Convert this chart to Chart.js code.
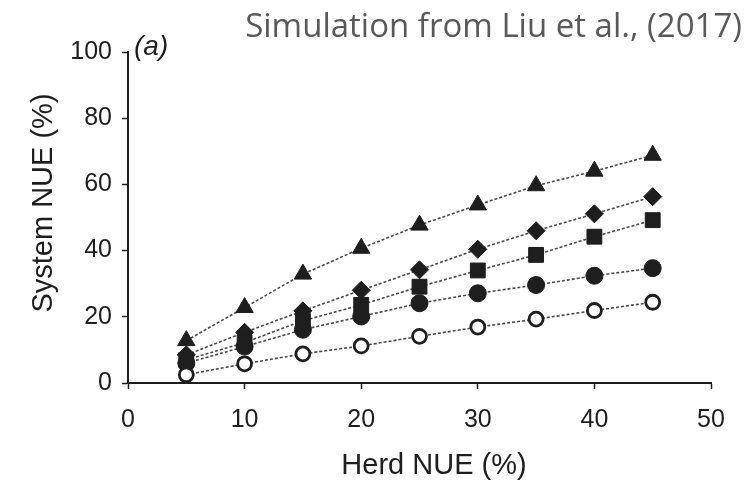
<!DOCTYPE html>
<html lang="en">
<head>
  <meta charset="UTF-8" />
  <title>System NUE vs Herd NUE</title>
  <script src="https://cdn.jsdelivr.net/npm/chart.js"></script>
  <style>
    body {
      margin: 0;
      padding: 0;
      background: #fff;
    }

    .chart-wrapper {
      width: 748px;
      height: 484px;
      position: relative;
    }
  </style>
</head>
<body>

  <div class="chart-wrapper">
    <canvas id="nueChart" width="748" height="484"></canvas>
  </div>

  <script>
    // Herd NUE (%) on the x axis
    const herdNUE = [5, 10, 15, 20, 25, 30, 35, 40, 45];

    // System NUE (%) for each simulated scenario
    const triangleSeries = [12.8, 22.8, 32.9, 40.7, 47.7, 53.8, 59.6, 64.0, 68.8];
    const diamondSeries  = [8.5, 15.3, 21.8, 28.0, 34.2, 40.4, 46.0, 51.1, 56.3];
    const squareSeries   = [7.0, 12.2, 18.8, 23.6, 29.1, 34.0, 38.7, 44.2, 49.2];
    const circleSeries   = [6.0, 11.0, 16.1, 20.1, 24.1, 27.1, 29.6, 32.4, 34.7];
    const openSeries     = [2.5, 5.8, 8.8, 11.2, 14.1, 16.9, 19.3, 21.9, 24.4];

    const xTicks = [0, 10, 20, 30, 40, 50];
    const yTicks = [0, 20, 40, 60, 80, 100];

    const toPoints = (ys) => ys.map((y, i) => ({ x: herdNUE[i], y: y }));

    const ink = '#1e1e1e';
    const lineGrey = '#4a4a4a';

    function series(label, values, style, radius, fill) {
      return {
        label: label,
        data: toPoints(values),
        showLine: true,
        borderColor: lineGrey,
        borderWidth: 1.6,
        borderDash: [3, 2],
        pointStyle: style,
        pointRadius: radius,
        pointHoverRadius: radius,
        pointBackgroundColor: fill,
        pointBorderColor: ink,
        pointBorderWidth: fill === '#fff' ? 2.8 : 1,
        tension: 0
      };
    }

    // title and panel letter
    const extraText = {
      id: 'extraText',
      afterDraw(chart) {
        const c = chart.ctx;
        const area = chart.chartArea;
        c.save();
        c.fillStyle = '#595959';
        c.font = '33px "Open Sans"';
        c.textAlign = 'right';
        c.textBaseline = 'middle';
        c.fillText('Simulation from Liu et al., (2017)', 742, 28);

        c.fillStyle = ink;
        c.font = 'italic 28px "Liberation Sans"';
        c.textAlign = 'left';
        c.fillText('(a)', area.left + 6, 47);
        c.restore();
      }
    };

    const ctx = document.getElementById('nueChart').getContext('2d');
    new Chart(ctx, {
      type: 'scatter',
      data: {
        datasets: [
          series('Open circle', openSeries, 'circle', 7, '#fff'),
          series('Circle', circleSeries, 'circle', 8.5, ink),
          series('Square', squareSeries, 'rect', 10.5, ink),
          series('Diamond', diamondSeries, 'rectRot', 9, ink),
          series('Triangle', triangleSeries, 'triangle', 10, ink)
        ]
      },
      options: {
        responsive: false,
        animation: false,
        layout: {
          padding: { top: 52, right: 37, bottom: 0, left: 0 }
        },
        plugins: {
          legend: { display: false },
          tooltip: { enabled: false }
        },
        scales: {
          x: {
            type: 'linear',
            min: 0,
            max: 50,
            afterBuildTicks: (scale) => { scale.ticks = xTicks.map(v => ({ value: v })); },
            afterFit: (scale) => { scale.height = 101; },
            border: { display: true, color: ink, width: 2 },
            grid: { drawOnChartArea: false, drawTicks: true, tickLength: 6, tickColor: ink, tickWidth: 1.5 },
            ticks: {
              color: ink,
              padding: 16,
              font: { family: '"Liberation Sans", Arial', size: 25 }
            },
            title: {
              display: true,
              text: '\u2003Herd NUE (%)',
              color: ink,
              padding: { top: 0, bottom: 1 },
              font: { family: '"Liberation Sans", Arial', size: 29 }
            }
          },
          y: {
            type: 'linear',
            min: 0,
            max: 100,
            afterBuildTicks: (scale) => { scale.ticks = yTicks.map(v => ({ value: v })); },
            afterFit: (scale) => { scale.width = 128; },
            border: { display: true, color: ink, width: 2 },
            grid: { drawOnChartArea: false, drawTicks: true, tickLength: 6, tickColor: ink, tickWidth: 1.5 },
            ticks: {
              color: ink,
              padding: 10,
              font: { family: '"Liberation Sans", Arial', size: 25 }
            },
            title: {
              display: true,
              text: '\u2003System NUE (%)',
              color: ink,
              padding: { top: 27, bottom: 0 },
              font: { family: '"Liberation Sans", Arial', size: 29 }
            }
          }
        }
      },
      plugins: [extraText]
    });
  </script>
</body>
</html>
